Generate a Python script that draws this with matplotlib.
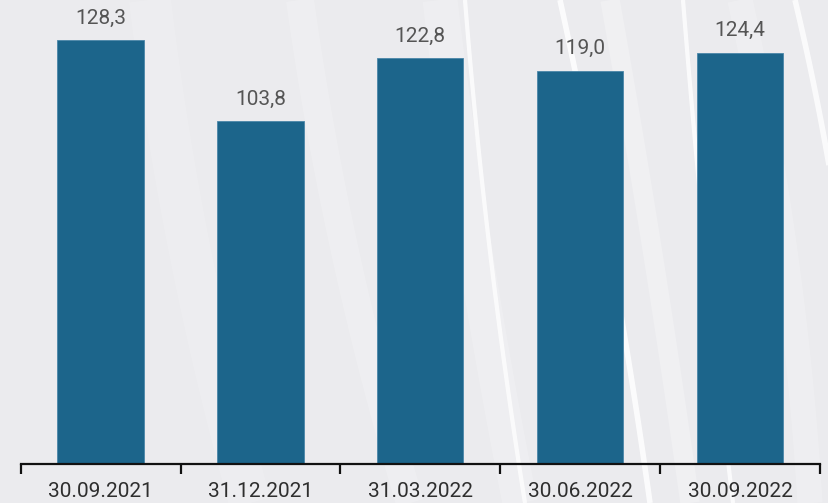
import numpy as np
import matplotlib.pyplot as plt

plt.rcParams['font.family'] = ['Roboto', 'DejaVu Sans']

dates = ['30.09.2021', '31.12.2021', '31.03.2022', '30.06.2022', '30.09.2022']
values = [128.3, 103.8, 122.8, 119.0, 124.4]

bar_color = '#1c658b'
bg_color = '#ebebee'

fig = plt.figure(figsize=(8.29, 5.03), dpi=100)
fig.patch.set_facecolor(bg_color)

# background swooshes (decoration)
bg = fig.add_axes([0, 0, 1, 1], zorder=0)
bg.set_xlim(0, 829)
bg.set_ylim(503, 0)
bg.axis('off')
t = np.linspace(0, 1, 50)
swooshes = [  # x at top, drift, curvature, width, alpha
    (150, 60, 40, 30, 0.15),
    (300, 70, 40, 20, 0.2),
    (465, 40, 20, 3, 0.8),
    (440, 60, 20, 25, 0.2),
    (560, 110, -20, 4, 0.85),
    (610, 90, -10, 14, 0.25),
    (683, 40, 10, 3, 0.8),
    (795, 120, -50, 4, 0.8),
    (740, 110, -40, 18, 0.2),
]
for x0, a, b, w, al in swooshes:
    ys = t * 503
    xs = x0 + a * t + b * t ** 2
    bg.plot(xs, ys, color='white', lw=w, alpha=al, solid_capstyle='butt')

ax = fig.add_axes([0.025, 39 / 503, 0.964, 464 / 503], zorder=1)
ax.patch.set_alpha(0)
x = np.arange(len(dates))
bars = ax.bar(x, values, width=0.54, color=bar_color, edgecolor='#4a86a8', linewidth=0.6)

for xi, v in zip(x, values):
    ax.annotate(f'{v:.1f}'.replace('.', ','), (xi, v), xytext=(0, 9),
                textcoords='offset points', ha='center', va='bottom',
                fontsize=15, color='#555555')

ax.set_xlim(-0.5, len(dates) - 0.5)
ax.set_ylim(0, 140.4)
for s in ['top', 'right', 'left']:
    ax.spines[s].set_visible(False)
ax.spines['bottom'].set_color('#111111')
ax.spines['bottom'].set_linewidth(1.6)
ax.set_yticks([])
ax.set_xticks(np.arange(-0.5, len(dates)), minor=False)
ax.set_xticklabels([])
ax.tick_params(axis='x', which='major', length=7, width=1.6, color='#111111', direction='out')
ax.set_xticks(x, minor=True)
ax.set_xticklabels(dates, minor=True)
ax.tick_params(axis='x', which='minor', length=0, pad=13, labelsize=15, labelcolor='#2e2e2e')

fig.savefig('out.png', dpi=100, facecolor=fig.get_facecolor())
